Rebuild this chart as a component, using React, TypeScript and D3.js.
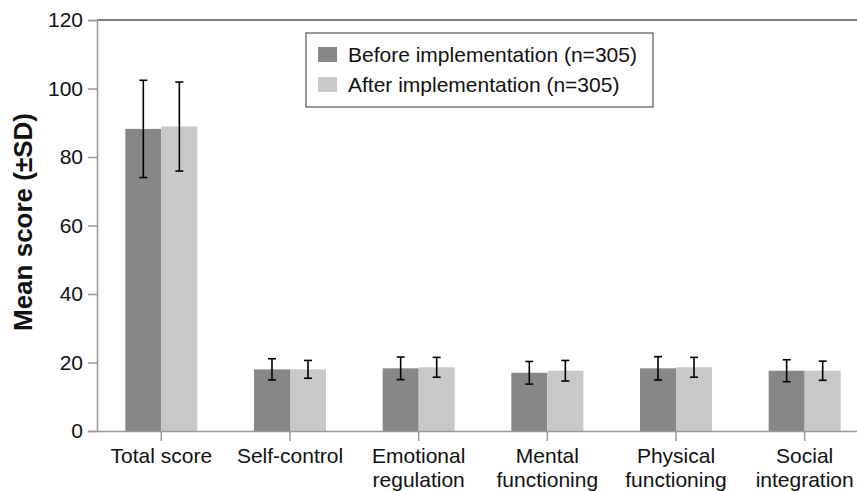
import React, { useEffect, useRef } from "react";
import * as d3 from "d3";

const categories = [
  ["Total score"],
  ["Self-control"],
  ["Emotional", "regulation"],
  ["Mental", "functioning"],
  ["Physical", "functioning"],
  ["Social", "integration"],
];
const beforeMean = [88.2, 18.0, 18.3, 17.0, 18.3, 17.6];
const beforeSD = [14.2, 3.1, 3.3, 3.3, 3.4, 3.2];
const afterMean = [88.9, 18.0, 18.6, 17.6, 18.6, 17.6];
const afterSD = [13.0, 2.6, 2.9, 3.0, 2.9, 2.8];
const seriesNames = ["Before implementation (n=305)", "After implementation (n=305)"];
const seriesColors = ["#878787", "#c8c8c8"];
const yTicks = [0, 20, 40, 60, 80, 100, 120];

const width = 857;
const height = 491;
const margin = { top: 20, right: -12, bottom: 60, left: 97 };

const App: React.FC = () => {
  const ref = useRef<SVGSVGElement>(null);

  useEffect(() => {
    const svg = d3.select(ref.current);
    svg.selectAll("*").remove();
    const font = "Liberation Sans, Arial, sans-serif";

    const keys = categories.map((c) => c.join(" "));
    const x = d3
      .scaleBand()
      .domain(keys)
      .range([margin.left, width - margin.right])
      .paddingInner(0.44)
      .paddingOuter(0.22);
    const x1 = d3.scaleBand().domain(["0", "1"]).range([0, x.bandwidth()]);
    const y = d3.scaleLinear().domain([0, 120]).range([height - margin.bottom, margin.top]);

    // top border
    svg
      .append("line")
      .attr("x1", margin.left)
      .attr("x2", width)
      .attr("y1", y(120))
      .attr("y2", y(120))
      .attr("stroke", "#000")
      .attr("stroke-width", 1.2);

    // y axis
    const yAxis = svg
      .append("g")
      .attr("transform", `translate(${margin.left},0)`)
      .call(d3.axisLeft(y).tickValues(yTicks).tickSize(9).tickPadding(5));
    yAxis.select(".domain").attr("stroke", "#999").attr("stroke-width", 1.5);
    yAxis.selectAll(".tick line").attr("stroke", "#999").attr("stroke-width", 1.5);
    yAxis
      .selectAll(".tick text")
      .attr("font-family", font)
      .attr("font-size", 21)
      .attr("fill", "#111");

    // bars
    const series = [
      { mean: beforeMean, sd: beforeSD },
      { mean: afterMean, sd: afterSD },
    ];
    series.forEach((s, si) => {
      const g = svg.append("g");
      g.selectAll("rect")
        .data(keys)
        .enter()
        .append("rect")
        .attr("x", (k) => (x(k) as number) + (x1(String(si)) as number))
        .attr("y", (k, i) => y(s.mean[i]))
        .attr("width", x1.bandwidth())
        .attr("height", (k, i) => y(0) - y(s.mean[i]))
        .attr("fill", seriesColors[si]);
    });

    // error bars
    series.forEach((s, si) => {
      const g = svg.append("g").attr("stroke", "#000").attr("stroke-width", 1.6);
      keys.forEach((k, i) => {
        const cx = (x(k) as number) + (x1(String(si)) as number) + x1.bandwidth() / 2;
        const hi = y(s.mean[i] + s.sd[i]);
        const lo = y(s.mean[i] - s.sd[i]);
        g.append("line").attr("x1", cx).attr("x2", cx).attr("y1", hi).attr("y2", lo);
        g.append("line").attr("x1", cx - 4).attr("x2", cx + 4).attr("y1", hi).attr("y2", hi);
        g.append("line").attr("x1", cx - 4).attr("x2", cx + 4).attr("y1", lo).attr("y2", lo);
      });
    });

    // x axis
    const xAxis = svg
      .append("g")
      .attr("transform", `translate(0,${y(0)})`)
      .call(d3.axisBottom(x).tickSize(10).tickSizeOuter(0).tickFormat(() => ""));
    xAxis.select(".domain").attr("stroke", "#999").attr("stroke-width", 1.5);
    xAxis.selectAll(".tick line").attr("stroke", "#999").attr("stroke-width", 1.5);

    categories.forEach((lines, i) => {
      const cx = (x(keys[i]) as number) + x.bandwidth() / 2;
      const t = svg
        .append("text")
        .attr("x", cx)
        .attr("y", y(0) + 32)
        .attr("text-anchor", "middle")
        .attr("font-family", font)
        .attr("font-size", 21)
        .attr("fill", "#111");
      lines.forEach((ln, li) => {
        t.append("tspan").attr("x", cx).attr("dy", li === 0 ? 0 : 24).text(ln);
      });
    });

    // y title
    svg
      .append("text")
      .attr("transform", `translate(32,${y(0) - 209}) rotate(-90)`)
      .attr("text-anchor", "middle")
      .attr("font-family", font)
      .attr("font-size", 26)
      .attr("font-weight", "bold")
      .attr("fill", "#111")
      .text("Mean score (\u00b1SD)");

    // legend
    const lg = svg.append("g").attr("transform", "translate(306,33)");
    lg.append("rect")
      .attr("width", 347)
      .attr("height", 74)
      .attr("fill", "#fff")
      .attr("stroke", "#333")
      .attr("stroke-width", 1);
    seriesNames.forEach((name, i) => {
      lg.append("rect")
        .attr("x", 12)
        .attr("y", 14 + i * 30)
        .attr("width", 19)
        .attr("height", 15)
        .attr("fill", seriesColors[i]);
      lg.append("text")
        .attr("x", 42)
        .attr("y", 29 + i * 30)
        .attr("font-family", font)
        .attr("font-size", 21)
        .attr("fill", "#111")
        .text(name);
    });
  }, []);

  return (
    <svg
      ref={ref}
      width={width}
      height={height}
      style={{ position: "absolute", left: 0, top: 0, background: "#fff" }}
    />
  );
};

export default App;
